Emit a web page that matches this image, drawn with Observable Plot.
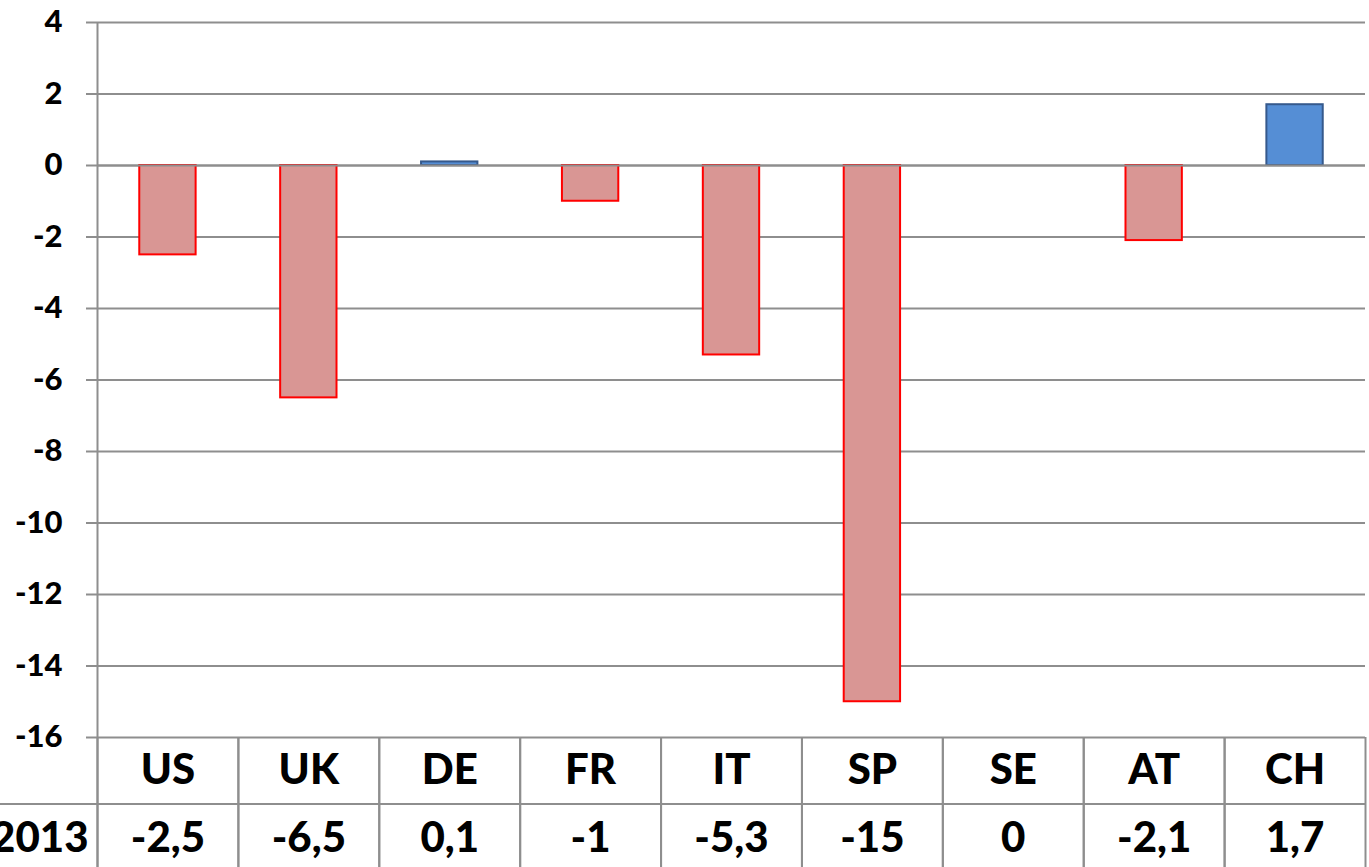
<!DOCTYPE html>
<html>
<head>
<meta charset="utf-8">
<script src="https://cdn.jsdelivr.net/npm/d3@7"></script>
<script src="https://cdn.jsdelivr.net/npm/@observablehq/plot@0.6"></script>
<style>
  html, body { margin: 0; padding: 0; background: #fff; }
  #chart svg { display: block; }
</style>
</head>
<body>
<div id="chart"></div>
<script>
// Change by country, 2013
const countries = ["US", "UK", "DE", "FR", "IT", "SP", "SE", "AT", "CH"];
const values2013 = [-2.5, -6.5, 0.1, -1, -5.3, -15, 0, -2.1, 1.7];
const yTicks = [4, 2, 0, -2, -4, -6, -8, -10, -12, -14, -16];
const rowLabel = "2013";

const data = countries.map((c, i) => ({country: c, value: values2013[i]}));
const fmt = v => String(v).replace(".", ",");

const W = 1369, H = 867;
const mL = 97, mR = 4, mT = 22, mB = 130;
const step = (W - mL - mR) / countries.length;
const frameH = H - mT - mB;
const grid = "#8e8e8e";
const font = "Lato, 'Open Sans', sans-serif";
const weight = 900;

const chart = Plot.plot({
  width: W,
  height: H,
  marginLeft: mL,
  marginRight: mR,
  marginTop: mT,
  marginBottom: mB,
  style: {fontFamily: font, fontWeight: weight, color: "#000", background: "#fff", overflow: "visible"},
  x: {domain: countries, paddingInner: 0.6, paddingOuter: 0.3, round: false, axis: null},
  y: {domain: [-16, 4], axis: null, label: null},
  color: {type: "identity"},
  marks: [
    // horizontal gridlines with their left tick stubs
    Plot.ruleY(yTicks, {stroke: grid, strokeWidth: 2, insetLeft: -11}),
    // y tick labels
    Plot.axisY(yTicks, {tickSize: 0, tickPadding: 35, label: null, tickFormat: d => String(d), fontSize: 31, fontWeight: weight, fill: "#000"}),
    // bars
    Plot.barY(data, {
      x: "country",
      y: "value",
      fill: d => d.value < 0 ? "#d99694" : "#558ed5",
      stroke: d => d.value < 0 ? "#ff0000" : "#35598c",
      strokeWidth: 2
    }),
    // zero line on top of bars
    Plot.ruleY([0], {stroke: grid, strokeWidth: 2}),
    // vertical value axis line, running down through the table
    Plot.ruleX([countries[0]], {dx: -step / 2, stroke: grid, strokeWidth: 2, insetBottom: -mB}),
    // data table column separators
    Plot.ruleX(countries, {dx: -step / 2, stroke: grid, strokeWidth: 2, insetTop: frameH, insetBottom: -mB}),
    Plot.ruleX(countries, {dx: step / 2, stroke: grid, strokeWidth: 2, insetTop: frameH, insetBottom: -mB}),
    // data table row separator
    Plot.ruleY([-16], {dy: 66.5, stroke: grid, strokeWidth: 2, insetLeft: -mL}),
    // data table: category row
    Plot.text(data, {x: "country", text: "country", frameAnchor: "bottom", dy: 33, lineAnchor: "middle", fontSize: 42, fontWeight: weight, fill: "#000"}),
    // data table: value row
    Plot.text(data, {x: "country", text: d => fmt(d.value), frameAnchor: "bottom", dy: 101, lineAnchor: "middle", fontSize: 42, fontWeight: weight, fill: "#000"}),
    // data table: row label
    Plot.text([rowLabel], {text: d => d, frameAnchor: "bottom-left", dx: -9, dy: 101, textAnchor: "end", lineAnchor: "middle", fontSize: 42, fontWeight: weight, fill: "#000"})
  ]
});

document.getElementById("chart").appendChild(chart);
</script>
</body>
</html>
